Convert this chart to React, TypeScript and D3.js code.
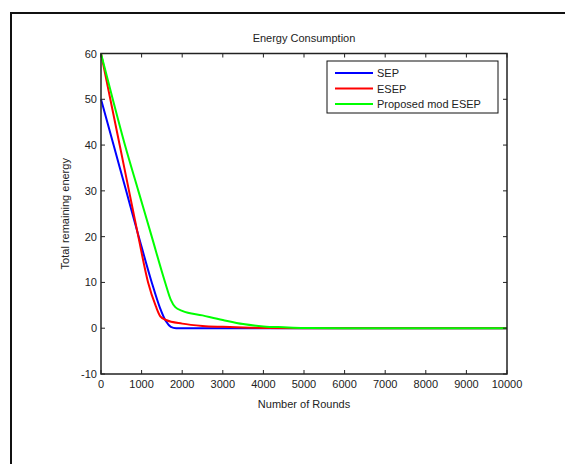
import React, { useRef, useEffect } from 'react';
import * as d3 from 'd3';

// values: [round, remaining energy]
const sepData: [number, number][] = [
  [0, 50], [310, 40], [620, 30], [930, 20], [1250, 10], [1450, 4.5], [1600, 1.5],
  [1720, 0.3], [1850, 0], [10000, 0],
];
const esepData: [number, number][] = [
  [0, 60], [230, 50], [460, 40], [690, 30], [920, 20], [1160, 10], [1350, 4.8],
  [1460, 2.6], [1600, 1.8], [2000, 1.0], [2500, 0.5], [3000, 0.3], [3500, 0.15],
  [4000, 0.05], [5000, 0], [10000, 0],
];
const modEsepData: [number, number][] = [
  [0, 60], [290, 50], [590, 40], [920, 30], [1250, 20], [1580, 10], [1720, 6.2],
  [1830, 4.6], [2000, 3.8], [2500, 2.8], [3000, 1.8], [3500, 0.9], [4000, 0.4],
  [4500, 0.2], [5000, 0.05], [6000, 0], [10000, 0],
];
const seriesNames = ['SEP', 'ESEP', 'Proposed mod ESEP'];
const seriesColors = ['#0000ff', '#ff0000', '#00ff00'];
const xTicks = [0, 1000, 2000, 3000, 4000, 5000, 6000, 7000, 8000, 9000, 10000];
const yTicks = [-10, 0, 10, 20, 30, 40, 50, 60];

const W = 565;
const H = 464;
const FONT = '"Liberation Sans", Arial, sans-serif';

const App = () => {
  const svgRef = useRef<SVGSVGElement>(null);

  useEffect(() => {
    if (!svgRef.current) return;
    const svg = d3.select(svgRef.current);
    svg.selectAll('*').remove();

    const left = 101, right = 507, top = 53.5, bottom = 374;
    const x = d3.scaleLinear().domain([0, 10000]).range([left, right]);
    const y = d3.scaleLinear().domain([-10, 60]).range([bottom, top]);

    // outer figure frame
    svg.append('rect')
      .attr('x', 11).attr('y', 13)
      .attr('width', 600).attr('height', 500)
      .attr('fill', 'none').attr('stroke', '#111').attr('stroke-width', 2);

    const g = svg.append('g');

    // data lines
    const line = d3.line<[number, number]>()
      .x(d => x(d[0]))
      .y(d => y(d[1]))
      .curve(d3.curveMonotoneX);

    [sepData, esepData, modEsepData].forEach((s, i) => {
      g.append('path')
        .datum(s)
        .attr('d', line)
        .attr('fill', 'none')
        .attr('stroke', seriesColors[i])
        .attr('stroke-width', 2);
    });

    // box axes with inward ticks
    const tl = 4;
    const axisColor = '#222';
    g.append('rect')
      .attr('x', left).attr('y', top)
      .attr('width', right - left).attr('height', bottom - top)
      .attr('fill', 'none').attr('stroke', axisColor).attr('stroke-width', 1.5);

    xTicks.forEach(t => {
      const px = x(t);
      g.append('line').attr('x1', px).attr('x2', px).attr('y1', bottom).attr('y2', bottom - tl)
        .attr('stroke', axisColor);
      g.append('line').attr('x1', px).attr('x2', px).attr('y1', top).attr('y2', top + tl)
        .attr('stroke', axisColor);
      g.append('text')
        .attr('x', px).attr('y', bottom + 14)
        .attr('text-anchor', 'middle')
        .attr('font-family', FONT).attr('font-size', 11).attr('fill', '#222')
        .text(t);
    });

    yTicks.forEach(t => {
      const py = y(t);
      g.append('line').attr('x1', left).attr('x2', left + tl).attr('y1', py).attr('y2', py)
        .attr('stroke', axisColor);
      g.append('line').attr('x1', right).attr('x2', right - tl).attr('y1', py).attr('y2', py)
        .attr('stroke', axisColor);
      g.append('text')
        .attr('x', left - 4).attr('y', py + 4)
        .attr('text-anchor', 'end')
        .attr('font-family', FONT).attr('font-size', 11).attr('fill', '#222')
        .text(t);
    });

    // title and axis labels
    g.append('text')
      .attr('x', (left + right) / 2).attr('y', 42)
      .attr('text-anchor', 'middle')
      .attr('font-family', FONT).attr('font-size', 11).attr('fill', '#222')
      .text('Energy Consumption');

    g.append('text')
      .attr('x', (left + right) / 2).attr('y', 408)
      .attr('text-anchor', 'middle')
      .attr('font-family', FONT).attr('font-size', 11).attr('fill', '#222')
      .text('Number of Rounds');

    g.append('text')
      .attr('transform', `translate(69,${(top + bottom) / 2}) rotate(-90)`)
      .attr('text-anchor', 'middle')
      .attr('font-family', FONT).attr('font-size', 11).attr('fill', '#222')
      .text('Total remaining energy');

    // legend
    const lg = g.append('g');
    lg.append('rect')
      .attr('x', 327).attr('y', 61)
      .attr('width', 171).attr('height', 52)
      .attr('fill', '#fff').attr('stroke', '#111').attr('stroke-width', 1);
    seriesNames.forEach((name, i) => {
      const ly = 73 + i * 15.5;
      lg.append('line')
        .attr('x1', 335).attr('x2', 373).attr('y1', ly).attr('y2', ly)
        .attr('stroke', seriesColors[i]).attr('stroke-width', 2);
      lg.append('text')
        .attr('x', 377).attr('y', ly + 4)
        .attr('font-family', FONT).attr('font-size', 11).attr('fill', '#222')
        .text(name);
    });
  }, []);

  return (
    <div style={{ position: 'absolute', left: 0, top: 0, width: W, height: H, background: '#fff' }}>
      <svg ref={svgRef} width={W} height={H} style={{ display: 'block' }} />
    </div>
  );
};

export default App;
